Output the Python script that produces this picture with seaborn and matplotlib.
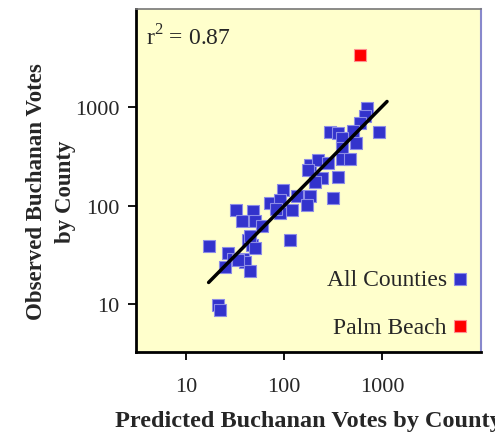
import matplotlib
matplotlib.use('Agg')
import matplotlib.pyplot as plt
import seaborn as sns
import pandas as pd

# 카운티별 예측 득표수 / 실제 득표수
predicted = [703, 671, 597, 931, 294, 356, 506, 391, 543, 391,
             184, 222, 281, 391, 471, 176, 244, 207, 356, 98,
             136, 184, 316, 172, 72, 91, 121, 32, 48, 91,
             37, 51, 60, 83, 115, 17, 43, 47, 27, 30,
             38, 25, 40, 45, 21, 22, 34, 45, 51]
observed = [977, 811, 689, 557, 557, 544, 571, 484, 431, 384,
            258, 290, 270, 303, 303, 229, 190, 177, 195, 144,
            125, 125, 119, 101, 106, 114, 90, 90, 88, 84,
            70, 70, 63, 94, 45, 39, 45, 40, 33, 29,
            29, 24, 27, 22, 9.8, 8.7, 28, 50, 37]

palm_pred = [600]
palm_obs = [3407]

fit_x = [17, 1120]
fit_y = [16.7, 1150]

xticks = [10, 100, 1000]
yticks = [10, 100, 1000]

df = pd.DataFrame({'predicted': predicted, 'observed': observed})
df_palm = pd.DataFrame({'predicted': palm_pred, 'observed': palm_obs})

sns.set_style('ticks')
plt.rcParams['font.family'] = ['Liberation Serif', 'DejaVu Serif']
plt.rcParams['mathtext.fontset'] = 'custom'
plt.rcParams['mathtext.rm'] = 'Liberation Serif'

fig, ax = plt.subplots(figsize=(4.95, 4.35), dpi=100)
fig.subplots_adjust(left=0.275, right=0.972, top=0.977, bottom=0.189)
ax.set_facecolor('#FFFFCC')

sns.lineplot(x=fit_x, y=fit_y, color='black', linewidth=2.5, ax=ax, zorder=3)
sns.scatterplot(df, x='predicted', y='observed', marker='s', s=70,
                color='#3333CC', edgecolor='#8C8CE6', linewidth=0.8,
                label='All Counties', ax=ax, zorder=2)
sns.scatterplot(df_palm, x='predicted', y='observed', marker='s', s=70,
                color='#FF0000', edgecolor='#FF9090', linewidth=0.8,
                label='Palm Beach', ax=ax, zorder=2)

ax.set_xscale('log')
ax.set_yscale('log')
ax.set_xlim(3.1, 10200)
ax.set_ylim(3.3, 10000)
ax.set_xticks(xticks)
ax.set_xticklabels([str(t) for t in xticks])
ax.set_yticks(yticks)
ax.set_yticklabels([str(t) for t in yticks])
ax.minorticks_off()
ax.tick_params(axis='both', which='major', direction='out', length=6,
               width=1.3, labelsize=16, color='black', bottom=True, left=True)
ax.tick_params(axis='x', pad=12)
ax.tick_params(axis='y', pad=6)

for side in ['left', 'bottom']:
    ax.spines[side].set_color('black')
    ax.spines[side].set_linewidth(2)
ax.spines['top'].set_visible(True)
ax.spines['right'].set_visible(True)
ax.spines['top'].set_color('#777777')
ax.spines['top'].set_linewidth(1.2)
ax.spines['right'].set_color('#8888CC')
ax.spines['right'].set_linewidth(1.5)

ax.set_xlabel('Predicted Buchanan Votes by County', fontsize=17.5,
              fontweight='bold', labelpad=10)
ax.set_ylabel('Observed Buchanan Votes\nby County', fontsize=16.5,
              fontweight='bold', linespacing=1.5)
ax.yaxis.set_label_coords(-0.175, 0.47)

ax.text(0.03, 0.955, 'r$^2$ = 0.87', transform=ax.transAxes, fontsize=17,
        ha='left', va='top')

leg = ax.legend(loc='lower right', frameon=False, markerfirst=False,
                fontsize=17, labelspacing=1.1, handletextpad=0.25,
                handlelength=0.6, borderaxespad=0.2)

plt.savefig('out.png', dpi=100)
